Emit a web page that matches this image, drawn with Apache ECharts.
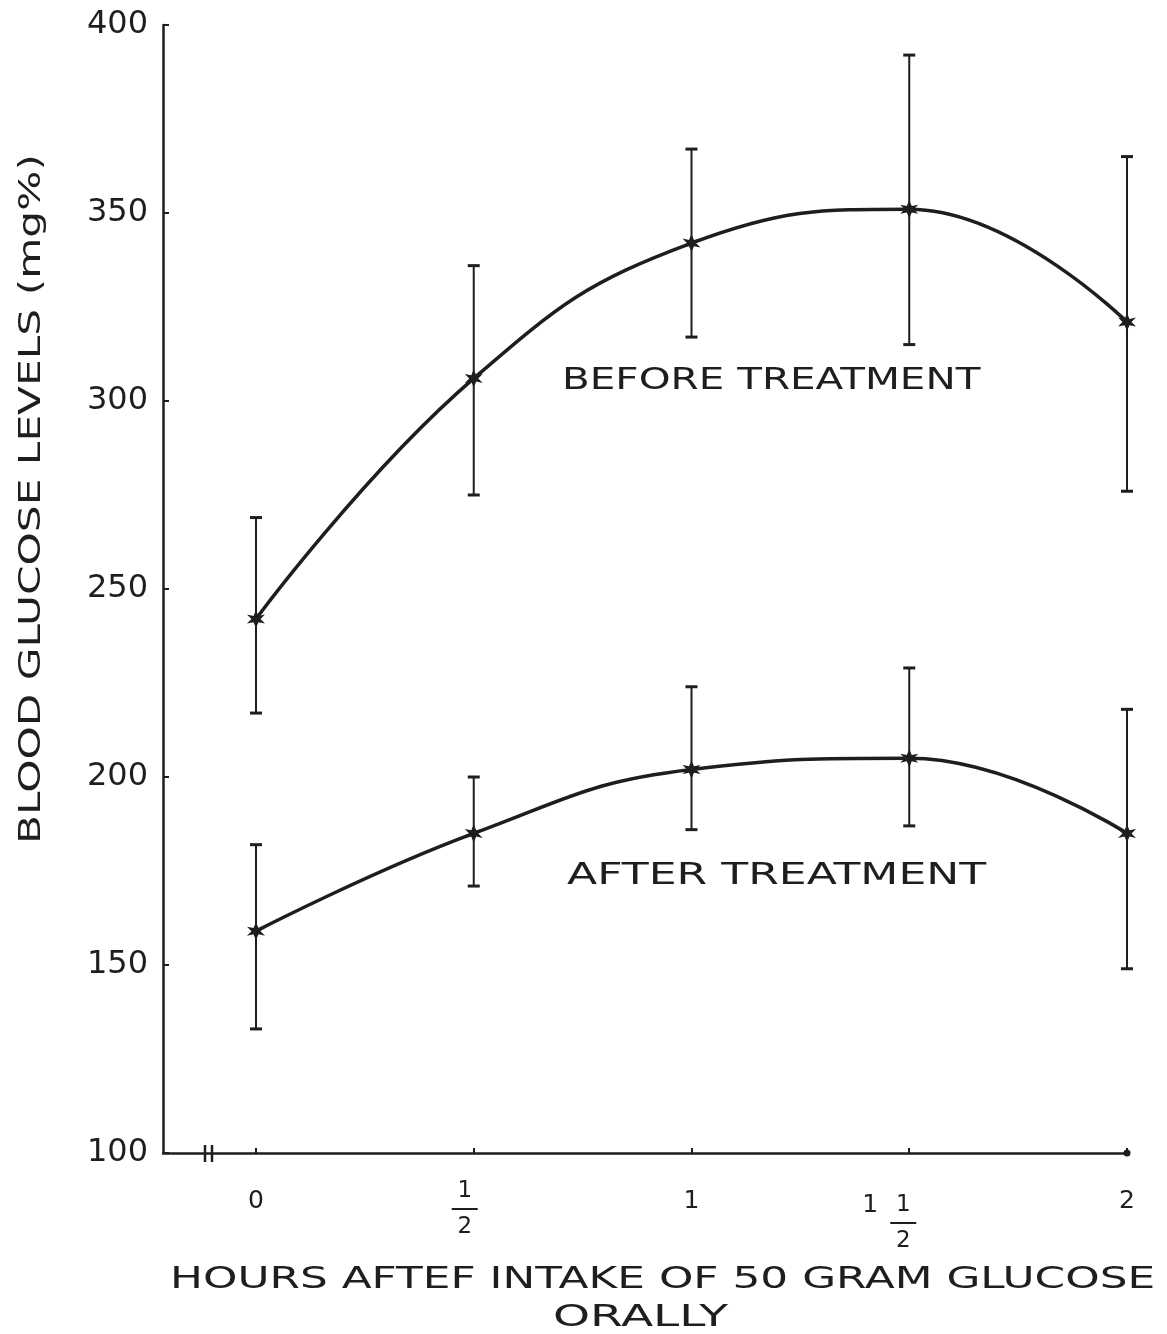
<!DOCTYPE html>
<html>
<head>
<meta charset="utf-8">
<script src="https://cdn.jsdelivr.net/npm/echarts@6/dist/echarts.min.js"></script>
<style>
html,body{margin:0;padding:0;background:#fff;}
#chart{width:1167px;height:1334px;}
</style>
</head>
<body>
<div id="chart"></div>
<script>
// ---- data ----
const hours = [0, 0.5, 1, 1.5, 2];
const hourLabels = ['0', '1/2', '1', '1 1/2', '2'];
const beforeMean = [242, 306, 342, 351, 321];
const beforeLow  = [217, 275, 317, 315, 276];
const beforeHigh = [269, 336, 367, 392, 365];
const afterMean  = [159, 185, 202, 205, 185];
const afterLow   = [133, 171, 186, 187, 149];
const afterHigh  = [182, 200, 224, 229, 218];
const yTitle = 'BLOOD GLUCOSE LEVELS (mg%)';
const xTitle1 = 'HOURS AFTEF INTAKE OF 50 GRAM GLUCOSE';
const xTitle2 = 'ORALLY';
const beforeLabel = 'BEFORE TREATMENT';
const afterLabel = 'AFTER TREATMENT';

const INK = '#1e1e1e';
const FONT = 'DejaVu Sans';

function fmtHour(v) {
  const i = hours.indexOf(v);
  if (i < 0) return '';
  const s = hourLabels[i];
  if (s === '1/2') {
    return '{n|1}{pf|}\n{bar|}{pfs|}\n{n|2}{pf|}';
  }
  if (s === '1 1/2') {
    return '{top|}\n{w|1}{n|1}{pad|}\n{ws|}{bar|}{pads|}\n{w|}{n|2}{pad|}';
  }
  return '{p|' + s + '}';
}

function errBars(low, high) {
  return hours.map((h, i) => [h, low[i], high[i]]);
}

function renderErr(params, api) {
  const x = api.value(0);
  const p1 = api.coord([x, api.value(2)]);
  const p2 = api.coord([x, api.value(1)]);
  const c = 6;
  const st = { stroke: INK, lineWidth: 2 };
  return {
    type: 'group',
    children: [
      { type: 'line', shape: { x1: p1[0], y1: p1[1], x2: p2[0], y2: p2[1] }, style: st },
      { type: 'line', shape: { x1: p1[0] - c, y1: p1[1], x2: p1[0] + c, y2: p1[1] }, style: { stroke: INK, lineWidth: 3 } },
      { type: 'line', shape: { x1: p2[0] - c, y1: p2[1], x2: p2[0] + c, y2: p2[1] }, style: { stroke: INK, lineWidth: 3 } }
    ]
  };
}

const starPath = 'path://M0,-10 L2.5,-3.5 L9,-5 L4.5,0 L9,5 L2.5,3.5 L0,10 L-2.5,3.5 L-9,5 L-4.5,0 L-9,-5 L-2.5,-3.5 Z';

const chart = echarts.init(document.getElementById('chart'));
chart.setOption({
  backgroundColor: '#ffffff',
  animation: false,
  grid: { left: 163, right: 40, top: 25, bottom: 181, containLabel: false },
  xAxis: {
    type: 'value',
    min: -0.2135,
    max: 2,
    splitLine: { show: false },
    axisLine: { show: true, onZero: false, lineStyle: { color: INK, width: 2.5 }, symbol: ['none', 'circle'], symbolSize: [7, 7] },
    axisTick: { show: true, inside: true, length: 5, lineStyle: { color: INK, width: 2 }, customValues: hours },
    axisLabel: {
      show: true,
      customValues: hours,
      margin: 27,
      formatter: fmtHour,
      color: INK,
      fontFamily: FONT,
      rich: {
        p: { fontSize: 25, fontFamily: FONT, color: INK, lineHeight: 42 },
        n: { fontSize: 23, fontFamily: FONT, color: INK, lineHeight: 22, width: 26, align: 'center' },
        bar: { width: 26, height: 2, backgroundColor: INK, lineHeight: 14 },
        pf: { width: 18, lineHeight: 22 },
        pfs: { width: 18, height: 2, lineHeight: 14 },
        top: { width: 10, height: 2, lineHeight: 14 },
        w: { fontSize: 25, fontFamily: FONT, color: INK, lineHeight: 22, width: 40, align: 'center' },
        ws: { width: 40, height: 2, lineHeight: 14 },
        pad: { width: 52, lineHeight: 22 },
        pads: { width: 52, height: 2, lineHeight: 14 }
      }
    }
  },
  yAxis: {
    type: 'value',
    min: 100,
    max: 400,
    interval: 50,
    splitLine: { show: false },
    axisLine: { show: true, onZero: false, lineStyle: { color: INK, width: 2.5 } },
    axisTick: { show: true, inside: true, length: 6, lineStyle: { color: INK, width: 2 } },
    axisLabel: { color: INK, fontFamily: FONT, fontSize: 32, margin: 15 }
  },
  graphic: [
    // axis break marks
    { type: 'line', shape: { x1: 205, y1: 1145, x2: 205, y2: 1162 }, style: { stroke: INK, lineWidth: 2.5 } },
    { type: 'line', shape: { x1: 212, y1: 1145, x2: 212, y2: 1162 }, style: { stroke: INK, lineWidth: 2.5 } },
    // titles
    { type: 'text', x: 32, y: 499, rotation: Math.PI / 2, scaleX: 1.41,
      style: { text: yTitle, font: '30px "DejaVu Sans"', fill: INK, textAlign: 'center', textVerticalAlign: 'middle' } },
    { type: 'text', x: 170, y: 1280, scaleX: 1.46,
      style: { text: xTitle1, font: '30px "DejaVu Sans"', fill: INK, textAlign: 'left', textVerticalAlign: 'middle' } },
    { type: 'text', x: 553, y: 1318, scaleX: 1.57,
      style: { text: xTitle2, font: '30px "DejaVu Sans"', fill: INK, textAlign: 'left', textVerticalAlign: 'middle' } },
    { type: 'text', x: 562, y: 381, scaleX: 1.35,
      style: { text: beforeLabel, font: '30px "DejaVu Sans"', fill: INK, textAlign: 'left', textVerticalAlign: 'middle' } },
    { type: 'text', x: 567, y: 876, scaleX: 1.47,
      style: { text: afterLabel, font: '30px "DejaVu Sans"', fill: INK, textAlign: 'left', textVerticalAlign: 'middle' } }
  ],
  series: [
    { type: 'custom', name: 'before-err', renderItem: renderErr, data: errBars(beforeLow, beforeHigh), z: 2 },
    { type: 'custom', name: 'after-err', renderItem: renderErr, data: errBars(afterLow, afterHigh), z: 2 },
    {
      type: 'line', name: beforeLabel, smooth: 0.45,
      data: hours.map((h, i) => [h, beforeMean[i]]),
      symbol: starPath, symbolSize: 18,
      itemStyle: { color: INK },
      lineStyle: { color: INK, width: 3.5 }, z: 3
    },
    {
      type: 'line', name: afterLabel, smooth: 0.45,
      data: hours.map((h, i) => [h, afterMean[i]]),
      symbol: starPath, symbolSize: 18,
      itemStyle: { color: INK },
      lineStyle: { color: INK, width: 3.5 }, z: 3
    }
  ]
});
</script>
</body>
</html>
